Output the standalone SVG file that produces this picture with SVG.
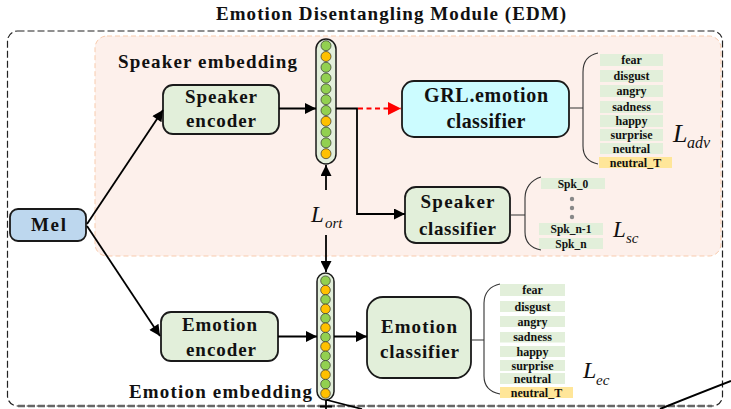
<svg xmlns="http://www.w3.org/2000/svg" width="731" height="409" viewBox="0 0 731 409">
<defs>
<marker id="ah" viewBox="0 0 10 10" refX="10" refY="5" markerWidth="13" markerHeight="11" markerUnits="userSpaceOnUse" orient="auto"><path d="M0,0 L10,5 L0,10 Z" fill="#000"/></marker>
<marker id="ahr" viewBox="0 0 10 10" refX="10" refY="5" markerWidth="14" markerHeight="13" markerUnits="userSpaceOnUse" orient="auto"><path d="M0,0 L10,5 L0,10 Z" fill="#ff0000"/></marker>
<style>
.t{font-family:"Liberation Serif","Times New Roman",serif;font-weight:bold;fill:#111}
.bt{font-size:19px;text-anchor:middle}
.lb{font-size:12px;text-anchor:middle}
.sk{font-size:11.5px;text-anchor:middle}
.L{font-family:"Liberation Serif","Times New Roman",serif;font-style:italic;fill:#111}
.box{stroke:#1a1a1a;stroke-width:1.8}
.g{fill:#e2efda}
.lr{fill:#e2efda}
.ly{fill:#ffe699}
.cg{fill:#92d050;stroke:#333;stroke-width:0.7}
.co{fill:#ffc000;stroke:#333;stroke-width:0.7}
.col{fill:#e2efda;stroke:#1a1a1a;stroke-width:1.5}
.ln{stroke:#000;stroke-width:1.8;fill:none}
.br{stroke:#333;stroke-width:1.1;fill:none}
</style>
</defs>
<rect width="731" height="409" fill="#fff"/>
<text class="t" x="391" y="20" font-size="19" text-anchor="middle" textLength="350" lengthAdjust="spacing">Emotion Disentangling Module (EDM)</text>
<rect id="edm-frame" x="7.5" y="31" width="715" height="375" rx="10" fill="none" stroke="#222" stroke-width="1.2" stroke-dasharray="7 3"/>
<line x1="18" y1="406" x2="712" y2="406" stroke="#666" stroke-width="2.4" stroke-dasharray="7 3"/>
<g id="speaker-region">
<rect x="95" y="36" width="626" height="220" rx="12" fill="#fdf0eb" stroke="#f8cbad" stroke-width="1" stroke-dasharray="5 3"/>
<text class="t" x="118" y="68" font-size="19" textLength="179" lengthAdjust="spacing">Speaker embedding</text>
</g>
<g id="mel">
<rect class="box" x="10" y="209" width="76" height="32" rx="8" fill="#bdd7ee"/>
<text class="t bt" x="48.5" y="231" textLength="35" lengthAdjust="spacing">Mel</text>
</g>
<g id="speaker-encoder">
<rect class="box g" x="163" y="85" width="116" height="49" rx="10"/>
<text class="t bt" x="221" y="103" textLength="72" lengthAdjust="spacing">Speaker</text>
<text class="t bt" x="221" y="127" textLength="70" lengthAdjust="spacing">encoder</text>
</g>
<g id="speaker-embedding">
<rect class="col" x="316" y="39" width="20" height="125" rx="10"/>
<circle class="cg" cx="326" cy="45.7" r="5"/>
<circle class="co" cx="326" cy="56.5" r="5"/>
<circle class="cg" cx="326" cy="67.3" r="5"/>
<circle class="cg" cx="326" cy="78.1" r="5"/>
<circle class="cg" cx="326" cy="88.9" r="5"/>
<circle class="cg" cx="326" cy="99.7" r="5"/>
<circle class="cg" cx="326" cy="110.5" r="5"/>
<circle class="co" cx="326" cy="121.3" r="5"/>
<circle class="cg" cx="326" cy="132.1" r="5"/>
<circle class="cg" cx="326" cy="142.9" r="5"/>
<circle class="co" cx="326" cy="153.7" r="5"/>
</g>
<g id="grl-emotion-classifier">
<rect class="box" x="402" y="81" width="167" height="56" rx="12" fill="#ccfcff"/>
<text class="t" x="486" y="102" font-size="20" text-anchor="middle" textLength="124" lengthAdjust="spacing">GRL.emotion</text>
<text class="t" x="486" y="128" font-size="20" text-anchor="middle" textLength="79" lengthAdjust="spacing">classifier</text>
</g>
<g id="grl-labels">
<path class="br" d="M569,108 H583 M598,53 C588,55 583,62 583,72 V146 C583,156 588,162 598,164"/>
<rect class="lr" x="600" y="54" width="63" height="12"/><text class="t lb" x="631.5" y="64">fear</text>
<rect class="lr" x="600" y="70" width="63" height="12"/><text class="t lb" x="631.5" y="80">disgust</text>
<rect class="lr" x="600" y="85" width="63" height="12"/><text class="t lb" x="631.5" y="95">angry</text>
<rect class="lr" x="600" y="101" width="63" height="12"/><text class="t lb" x="631.5" y="111">sadness</text>
<rect class="lr" x="600" y="115" width="63" height="12"/><text class="t lb" x="631.5" y="125">happy</text>
<rect class="lr" x="600" y="129" width="63" height="12"/><text class="t lb" x="631.5" y="139">surprise</text>
<rect class="lr" x="600" y="143" width="63" height="11"/><text class="t lb" x="631.5" y="153">neutral</text>
<rect class="ly" x="599" y="157" width="73" height="11"/><text class="t lb" x="635.5" y="166.5">neutral_T</text>
<text class="L" x="673" y="142" font-size="26">L</text><text class="L" x="687" y="148" font-size="16">adv</text>
</g>
<g id="speaker-classifier">
<rect class="box g" x="405" y="187" width="105" height="56" rx="11"/>
<text class="t bt" x="457.5" y="208" textLength="74" lengthAdjust="spacing">Speaker</text>
<text class="t bt" x="457.5" y="235" textLength="77" lengthAdjust="spacing">classifier</text>
</g>
<g id="speaker-labels">
<path class="br" d="M510,215 H525 M541,177 C531,180 525,188 525,198 V232 C525,242 531,248 541,250"/>
<rect class="lr" x="541" y="178" width="64" height="11"/><text class="t sk" x="573" y="187.5">Spk_0</text>
<circle cx="572" cy="199" r="2.2" fill="#888"/>
<circle cx="572" cy="208" r="2.2" fill="#888"/>
<circle cx="572" cy="217" r="2.2" fill="#888"/>
<rect class="lr" x="539" y="223" width="64" height="12"/><text class="t sk" x="571" y="232.5">Spk_n-1</text>
<rect class="lr" x="539" y="238" width="64" height="11"/><text class="t sk" x="571" y="247.5">Spk_n</text>
<text class="L" x="613" y="237" font-size="23">L</text><text class="L" x="626" y="243" font-size="15">sc</text>
</g>
<g id="l-ort">
<text class="L" x="311" y="222" font-size="23">L</text><text class="L" x="325" y="228" font-size="15">ort</text>
</g>
<g id="emotion-encoder">
<rect class="box g" x="161" y="312" width="117" height="49" rx="10"/>
<text class="t bt" x="219.5" y="331" textLength="75" lengthAdjust="spacing">Emotion</text>
<text class="t bt" x="221" y="356" textLength="70" lengthAdjust="spacing">encoder</text>
</g>
<g id="emotion-embedding">
<rect class="col" x="317" y="273" width="17" height="127" rx="8.5"/>
<circle class="cg" cx="325.5" cy="280.7" r="4.8"/>
<circle class="co" cx="325.5" cy="290.1" r="4.8"/>
<circle class="cg" cx="325.5" cy="299.5" r="4.8"/>
<circle class="co" cx="325.5" cy="308.9" r="4.8"/>
<circle class="cg" cx="325.5" cy="318.3" r="4.8"/>
<circle class="co" cx="325.5" cy="327.7" r="4.8"/>
<circle class="cg" cx="325.5" cy="337.1" r="4.8"/>
<circle class="co" cx="325.5" cy="346.5" r="4.8"/>
<circle class="cg" cx="325.5" cy="355.9" r="4.8"/>
<circle class="cg" cx="325.5" cy="365.3" r="4.8"/>
<circle class="co" cx="325.5" cy="374.7" r="4.8"/>
<circle class="cg" cx="325.5" cy="384.1" r="4.8"/>
<circle class="co" cx="325.5" cy="393.5" r="4.8"/>
<text class="t" x="129" y="398" font-size="19" textLength="183" lengthAdjust="spacing">Emotion embedding</text>
</g>
<g id="emotion-classifier">
<rect class="box g" x="367" y="297" width="104" height="81" rx="16"/>
<text class="t bt" x="419" y="333" textLength="76" lengthAdjust="spacing">Emotion</text>
<text class="t bt" x="419.5" y="358" textLength="79" lengthAdjust="spacing">classifier</text>
</g>
<g id="emotion-labels">
<path class="br" d="M471,340 H484 M500,284 C490,286 484,293 484,303 V376 C484,386 490,392 500,394"/>
<rect class="lr" x="500" y="284" width="65" height="12"/><text class="t lb" x="532.5" y="294">fear</text>
<rect class="lr" x="500" y="301" width="65" height="11"/><text class="t lb" x="532.5" y="310.5">disgust</text>
<rect class="lr" x="500" y="316" width="65" height="11"/><text class="t lb" x="532.5" y="325.5">angry</text>
<rect class="lr" x="500" y="332" width="65" height="10.5"/><text class="t lb" x="532.5" y="341">sadness</text>
<rect class="lr" x="500" y="346" width="65" height="11"/><text class="t lb" x="532.5" y="355.5">happy</text>
<rect class="lr" x="500" y="360" width="65" height="11"/><text class="t lb" x="532.5" y="369.5">surprise</text>
<rect class="lr" x="500" y="373" width="65" height="11"/><text class="t lb" x="532.5" y="382.5">neutral</text>
<rect class="ly" x="500" y="387" width="73" height="11"/><text class="t lb" x="536.5" y="396.5">neutral_T</text>
<text class="L" x="583" y="378" font-size="24">L</text><text class="L" x="596" y="385" font-size="15">ec</text>
</g>
<g id="connectors">
<line class="ln" x1="87" y1="224" x2="163" y2="110" marker-end="url(#ah)"/>
<line class="ln" x1="87" y1="226" x2="160" y2="336" marker-end="url(#ah)"/>
<line class="ln" x1="279" y1="108.5" x2="316" y2="108.5" marker-end="url(#ah)"/>
<polyline class="ln" points="336,108.5 357,108.5 357,214 405,214" marker-end="url(#ah)"/>
<line x1="358" y1="108.5" x2="401" y2="108.5" stroke="#ff0000" stroke-width="1.8" stroke-dasharray="5 3.5" marker-end="url(#ahr)"/>
<line class="ln" x1="326" y1="190" x2="326" y2="165" marker-end="url(#ah)"/>
<line class="ln" x1="326" y1="235" x2="326" y2="272" marker-end="url(#ah)"/>
<line class="ln" x1="278" y1="336.5" x2="317" y2="336.5" marker-end="url(#ah)"/>
<line class="ln" x1="334" y1="336.5" x2="367" y2="336.5" marker-end="url(#ah)"/>
<path class="ln" d="M326,400 V409 M320,406.5 H332 M327,400 L362,409"/>
<path d="M660,409 Q700,393 731,381" stroke="#000" stroke-width="2" fill="none"/>
</g>
</svg>
